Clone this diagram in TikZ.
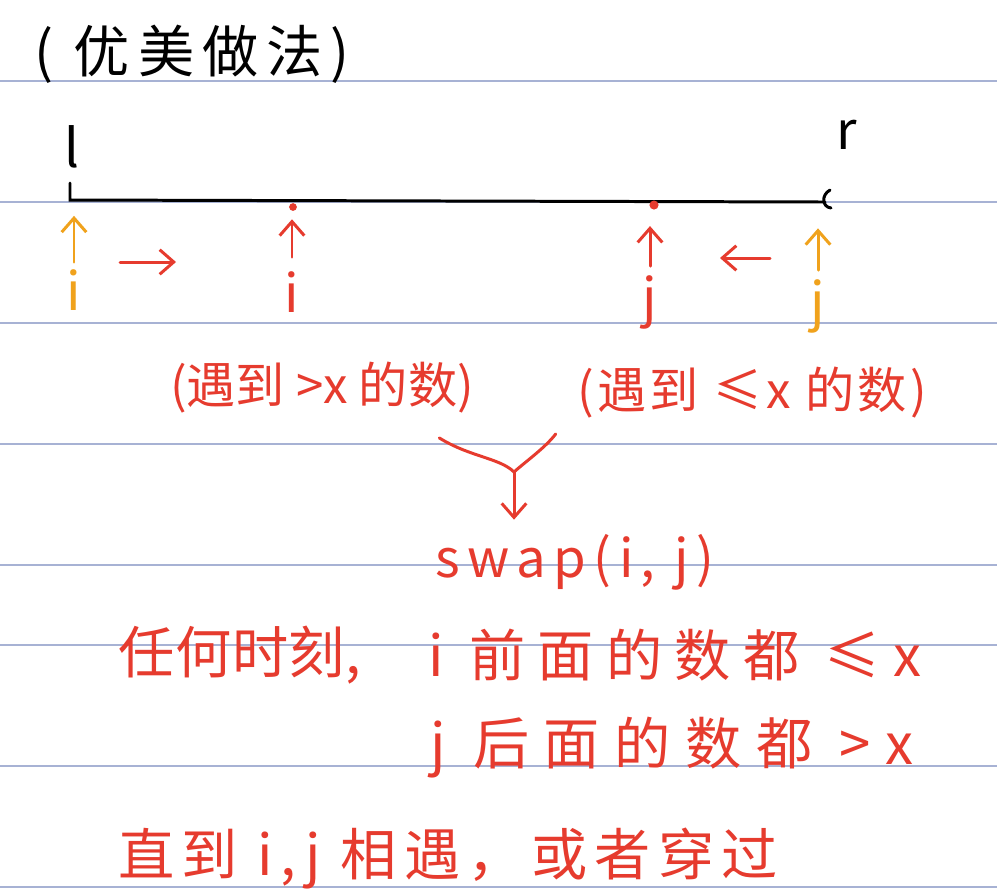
\documentclass[tikz,border=0pt]{standalone}
\usepackage{fontspec}
\newfontfamily\hand{Noto Sans CJK SC}
\usetikzlibrary{arrows.meta,positioning}
\definecolor{inkred}{HTML}{E63B2E}
\definecolor{inkorange}{HTML}{F0A21C}
\definecolor{ruleblue}{HTML}{A7B2D4}

\begin{document}
\begin{tikzpicture}[x=0.02cm, y=-0.02cm,
    every node/.style={font=\hand\fontsize{30}{34}\selectfont, inner sep=0pt},
    spread/.style={font=\hand\fontsize{28}{32}\selectfont\addfontfeatures{LetterSpace=#1}},
    midspread/.style={font=\hand\fontsize{30}{34}\selectfont\addfontfeatures{LetterSpace=#1}},
    bigspread/.style={font=\hand\fontsize{32}{36}\selectfont\addfontfeatures{LetterSpace=#1}},
    redink/.style={text=inkred},
    orangeink/.style={text=inkorange},
    pointer/.style={-{Straight Barb[length=8pt,width=14pt]}, line width=1.7pt, line cap=round},
    stroke/.style={line width=1.7pt, line cap=round},
    ruling/.style={ruleblue, line width=0.8pt}]
    \useasboundingbox (0,0) rectangle (997,894);
    \fill[white] (0,0) rectangle (997,894);
    % ruled paper
    \foreach \y in {81,202,323,444,565,645,766,887}
        \draw[ruling] (0,\y) -- (997,\y);

    \node[bigspread=14] (title) at (192,54) {(\ 优美做法)};

    % the range l..r
    \node (lname) at (72,147) {l};
    \node (rname) at (847,135) {r};
    \coordinate (lend) at (70,200);
    \coordinate (rend) at (825,202);
    \draw[stroke] (70,183) -- (lend) -- (rend);
    \draw[stroke] (830,190) .. controls (821,195) and (822,207) .. (831,208);
    \coordinate (idot) at (293,207);
    \coordinate (jdot) at (654,205);
    \fill[inkred] (idot) circle (2.2pt);
    \fill[inkred] (jdot) circle (2.6pt);

    % pointers i and j
    \node[orangeink] (istart) at (74,290) {i};
    \node[redink] (inow) at (292,292) {i};
    \node[redink] (jnow) at (650,302) {j};
    \node[orangeink] (jstart) at (818,306) {j};
    \draw[pointer, inkorange, shorten <=4pt, shorten >=9pt] (istart) -- (istart |- lend);
    \draw[pointer, inkred, shorten <=8pt, shorten >=7pt] (inow) -- (inow |- idot);
    \draw[pointer, inkred, shorten <=5pt, shorten >=12pt] (jnow) -- (jnow |- jdot);
    \draw[pointer, inkorange, shorten <=5pt, shorten >=15pt] (jstart) -- (jstart |- rend);
    \coordinate (goright) at (120,262);
    \coordinate (goleft) at (770,258);
    \draw[pointer, inkred] (goright) -- ++(56,0);
    \draw[pointer, inkred] (goleft) -- ++(-50,0);

    % what stops them
    \node[redink, spread=0] (gt) at (322,388) {(遇到 >x 的数)};
    \node[redink, spread=7] (le) at (752,393) {(遇到 ≤x 的数)};
    \node[redink, midspread=14] (swap) at (575,562) {swap(i,\ j)};
    \coordinate (meet) at (514,472);
    \draw[stroke, inkred] ([shift={(-35,24)}]gt.south east) .. controls (470,457) and (500,458) .. (meet);
    \draw[stroke, inkred] ([shift={(-21,15)}]le.south west) .. controls (545,448) and (525,462) .. (meet);
    \draw[pointer, inkred, shorten >=8pt] (meet) -- (meet |- swap.north);

    % invariant
    \node[redink, bigspread=1] (anytime) at (240,655) {任何时刻,};
    \node[redink, bigspread=22] (ibefore) at (675,655) {i 前面的数都 ≤x};
    \node[redink, bigspread=26] (jafter) at (672,748) {j 后面的数都 >x};
    \node[redink, bigspread=13] (until) at (448,858) {直到 i,j 相遇，或者穿过};
\end{tikzpicture}
\end{document}
